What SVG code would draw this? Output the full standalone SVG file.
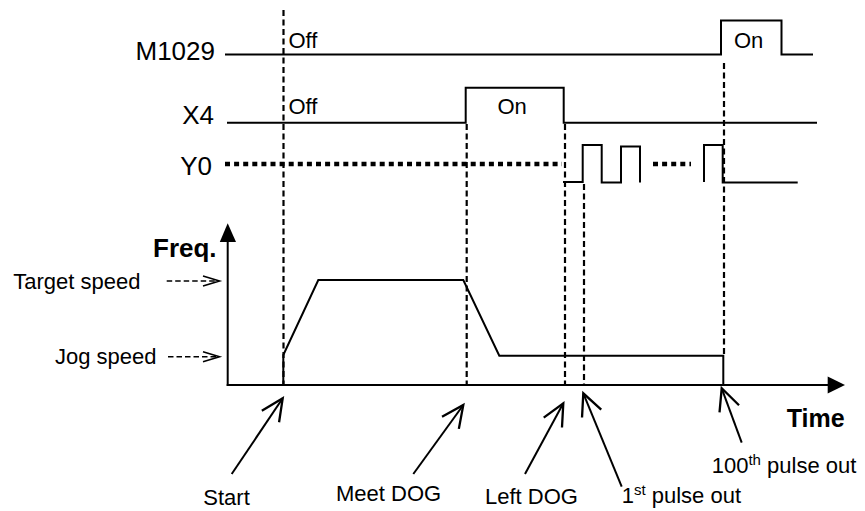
<svg xmlns="http://www.w3.org/2000/svg" width="865" height="511" viewBox="0 0 865 511">
<style>
text{font-family:"Liberation Sans",Arial,sans-serif;fill:#000}
.sig{font-size:26px}
.lbl{font-size:22px}
.bold{font-size:26px;font-weight:bold}
.sup{font-size:15px}
.w{fill:none;stroke:#000;stroke-width:2}
.dash{fill:none;stroke:#000;stroke-width:2.2;stroke-dasharray:6 3.5}
.dot{fill:none;stroke:#000;stroke-width:4.5;stroke-dasharray:5 4.1}
.darr{fill:none;stroke:#000;stroke-width:1.6;stroke-dasharray:5.5 3}
.arr{fill:none;stroke:#000;stroke-width:2;marker-end:url(#open)}
</style>
<defs>
<marker id="open" markerUnits="userSpaceOnUse" markerWidth="30" markerHeight="30" viewBox="-22 -12 26 24" refX="0" refY="0" orient="auto" overflow="visible">
<path d="M-19,-9 L0,0 L-19,9" fill="none" stroke="#000" stroke-width="2"/>
</marker>
</defs>
<rect width="865" height="511" fill="#fff"/>

<g id="guides">
<line class="dash" x1="283.5" y1="10" x2="283.5" y2="385"/>
<line class="dash" x1="466.7" y1="124" x2="466.7" y2="385"/>
<line class="dash" x1="565" y1="124" x2="565" y2="385"/>
<line class="dash" x1="584" y1="184" x2="584" y2="385"/>
<line class="dash" x1="724" y1="63" x2="724" y2="356"/>
</g>

<g id="m1029">
<text class="sig" x="215" y="60" text-anchor="end">M1029</text>
<path class="w" d="M225,54.5 H721 V20.5 H781.5 V54.5 H813"/>
<text class="lbl" x="288.5" y="47.5">Off</text>
<text class="lbl" x="734" y="47.5">On</text>
</g>

<g id="x4">
<text class="sig" x="214" y="123.5" text-anchor="end">X4</text>
<path class="w" d="M227,122.7 H465.7 V87.7 H563.7 V122.7 H817"/>
<text class="lbl" x="288.5" y="113.5">Off</text>
<text class="lbl" x="497.5" y="113.5">On</text>
</g>

<g id="y0">
<text class="sig" x="212" y="175" text-anchor="end">Y0</text>
<line class="dot" x1="225" y1="164" x2="562" y2="164"/>
<line class="dot" x1="653" y1="164" x2="691" y2="164"/>
<path class="w" d="M563,182 H582.7 V145 H601.7 V182.5 H621 V146.5 H640 V182.5"/>
<path class="w" d="M704,182 V145 H722.7 V182.5 H797.7"/>
</g>

<g id="axes">
<line class="w" x1="227.7" y1="240" x2="227.7" y2="386"/>
<polygon points="227.7,223.3 219.8,242 236,242" fill="#000"/>
<line class="w" x1="226.7" y1="385" x2="829" y2="385"/>
<polygon points="845,385 827.7,376.5 827.7,393.5" fill="#000"/>
<text class="bold" x="153" y="256.7">Freq.</text>
<text class="bold" x="786.7" y="426.7" style="font-size:25px">Time</text>
</g>

<g id="profile">
<path class="w" d="M283.3,385 V355 L318.3,280 H463.3 L499.3,355.7 H723.3 V385"/>
</g>

<g id="target-speed">
<text class="lbl" x="13.3" y="289.3">Target speed</text>
<line class="darr" x1="166.7" y1="281" x2="218" y2="281"/>
<path d="M203,276 L219.5,281 L203,286" fill="none" stroke="#000" stroke-width="1.6"/>
</g>

<g id="jog-speed">
<text class="lbl" x="55" y="364">Jog speed</text>
<line class="darr" x1="168" y1="356.7" x2="218" y2="356.7"/>
<path d="M203,351.7 L219.5,356.7 L203,361.7" fill="none" stroke="#000" stroke-width="1.6"/>
</g>

<g id="labels">
<text class="lbl" x="203.3" y="505">Start</text>
<text class="lbl" x="336" y="500.7">Meet DOG</text>
<text class="lbl" x="485" y="504">Left DOG</text>
<text class="lbl" x="621.7" y="503.3">1<tspan class="sup" dy="-8">st</tspan><tspan dy="8"> pulse out</tspan></text>
<text class="lbl" x="711.7" y="473.3">100<tspan class="sup" dy="-8">th</tspan><tspan dy="8"> pulse out</tspan></text>
</g>

<g id="connectors">
<line class="arr" x1="231.7" y1="474" x2="282.7" y2="398.3"/>
<line class="arr" x1="413.3" y1="474" x2="463.3" y2="405"/>
<line class="arr" x1="525" y1="474" x2="563.3" y2="403.3"/>
<line class="arr" x1="621.7" y1="486.7" x2="583.3" y2="393.3"/>
<line class="arr" x1="741.7" y1="442.7" x2="721.7" y2="388.3"/>
</g>
</svg>
